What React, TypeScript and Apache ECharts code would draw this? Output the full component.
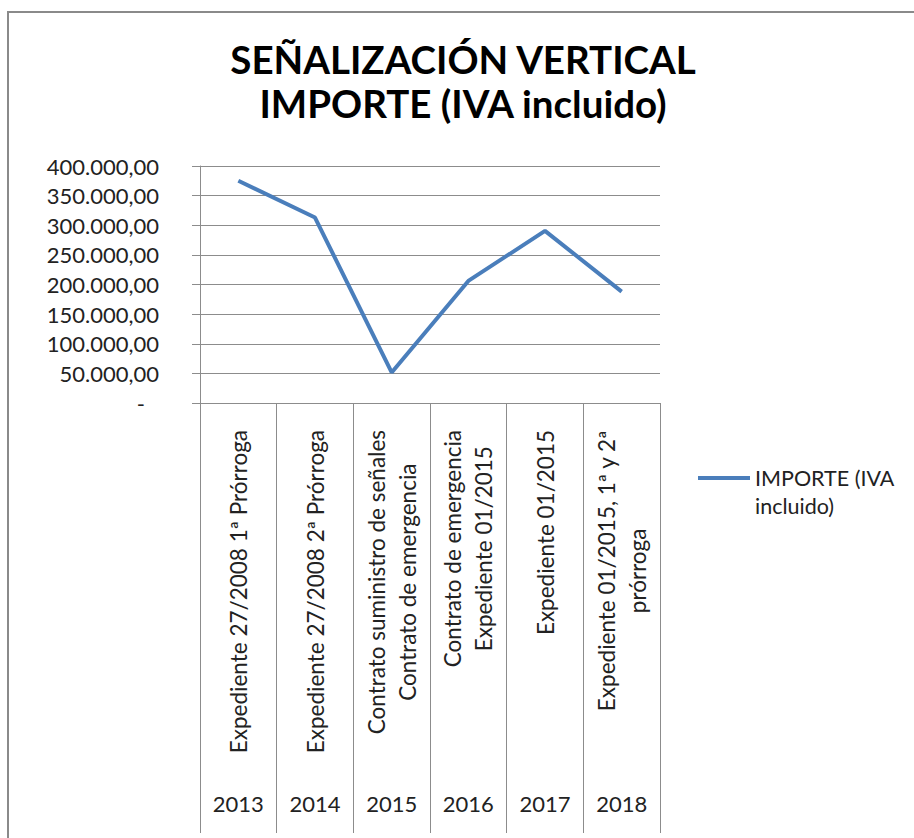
import React, { useEffect, useRef } from "react";
import * as echarts from "echarts";

const titleLines = ["SEÑALIZACIÓN VERTICAL", "IMPORTE (IVA incluido)"];
const seriesName = "IMPORTE (IVA incluido)";
const categories = [
  "Expediente 27/2008 1ª Prórroga",
  "Expediente 27/2008 2ª Prórroga",
  "Contrato suministro de señales\nContrato de emergencia",
  "Contrato de emergencia\nExpediente 01/2015",
  "Expediente 01/2015",
  "Expediente 01/2015, 1ª y 2ª\nprórroga",
];
const years = ["2013", "2014", "2015", "2016", "2017", "2018"];
const importe = [375000, 313000, 51500, 206000, 290500, 188000];
const yMin = 0;
const yMax = 400000;
const yStep = 50000;

const FONT = "Lato";
const TXT = "#222222";
const GRID = "#8c8c8c";
const LINE = "#4a7ebb";

function fmtEs(v: number): string {
  if (v === 0) return "{z|-}";
  const [i, d] = v.toFixed(2).split(".");
  return i.replace(/\B(?=(\d{3})+(?!\d))/g, ".") + "," + d;
}

export default function App() {
  const ref = useRef<HTMLDivElement>(null);
  useEffect(() => {
    if (!ref.current) return;
    const chart = echarts.init(ref.current, undefined, { renderer: "svg" });
    chart.setOption({
      animation: false,
      backgroundColor: "#ffffff",
      title: {
        text: titleLines.join("\n"),
        left: 463,
        top: 37,
        textAlign: "center",
        padding: 0,
        textStyle: {
          fontFamily: FONT,
          fontWeight: "bold",
          fontSize: 38.5,
          lineHeight: 44,
          color: "#000000",
        },
      },
      graphic: [
        {
          type: "rect",
          shape: { x: 8, y: 12, width: 1200, height: 1200 },
          style: { fill: "none", stroke: "#8a8a8a", lineWidth: 2 },
          silent: true,
        },
      ],
      legend: {
        data: [seriesName],
        left: 698,
        top: 436,
        padding: 0,
        icon: "rect",
        itemWidth: 52,
        itemHeight: 4,
        itemGap: 5,
        itemStyle: { color: LINE },
        formatter: () => "\nIMPORTE (IVA\nincluido)",
        textStyle: {
          fontFamily: FONT,
          fontSize: 21.5,
          lineHeight: 28,
          color: TXT,
        },
      },
      grid: { left: 200, right: 254, top: 166, bottom: 435, containLabel: false },
      xAxis: [
        {
          type: "category",
          data: categories,
          boundaryGap: true,
          axisLine: { show: true, lineStyle: { color: GRID, width: 1 } },
          axisTick: {
            show: true,
            interval: 0,
            length: 430,
            inside: false,
            lineStyle: { color: GRID, width: 1 },
          },
          axisLabel: {
            interval: 0,
            rotate: 90,
            margin: 27,
            fontFamily: FONT,
            fontSize: 22.5,
            color: TXT,
            formatter: (v: string) =>
              v
                .split("\n")
                .map((l) => `{c|${l}}`)
                .join("\n"),
            rich: {
              c: {
                align: "center",
                fontFamily: FONT,
                fontSize: 22.5,
                lineHeight: 31,
                color: TXT,
              },
            },
          },
          splitLine: { show: false },
        },
        {
          type: "category",
          data: years,
          position: "bottom",
          boundaryGap: true,
          axisLine: { show: false },
          axisTick: { show: false },
          axisLabel: {
            interval: 0,
            margin: 389,
            fontFamily: FONT,
            fontSize: 22,
            color: TXT,
          },
          splitLine: { show: false },
        },
      ],
      yAxis: {
        type: "value",
        min: yMin,
        max: yMax,
        interval: yStep,
        axisLine: { show: true, lineStyle: { color: GRID, width: 1 } },
        axisTick: { show: true, length: 8, inside: false, lineStyle: { color: GRID } },
        splitLine: { show: true, lineStyle: { color: GRID, width: 1 } },
        axisLabel: {
          margin: 41,
          fontFamily: FONT,
          fontSize: 22,
          color: TXT,
          formatter: (v: number) => fmtEs(v),
          rich: {
            z: { fontFamily: FONT, fontSize: 22, color: TXT, padding: [0, 14, 0, 0] },
          },
        },
      },
      series: [
        {
          name: seriesName,
          type: "line",
          data: importe,
          symbol: "none",
          showSymbol: false,
          lineStyle: { color: LINE, width: 4 },
          itemStyle: { color: LINE },
        },
      ],
    });
    return () => chart.dispose();
  }, []);
  return (
    <div
      ref={ref}
      style={{ position: "fixed", left: 0, top: 0, width: 914, height: 838 }}
    />
  );
}
